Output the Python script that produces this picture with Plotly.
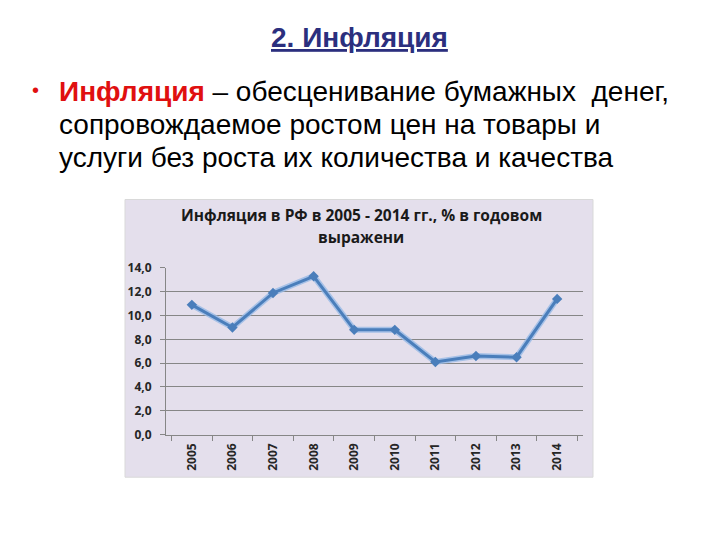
import plotly.graph_objects as go

years = ["2005", "2006", "2007", "2008", "2009", "2010", "2011", "2012", "2013", "2014"]
inflation = [10.9, 9.0, 11.9, 13.3, 8.8, 8.8, 6.1, 6.6, 6.5, 11.4]
y_ticks = [0, 2, 4, 6, 8, 10, 12, 14]
y_tick_labels = ["0,0", "2,0", "4,0", "6,0", "8,0", "10,0", "12,0", "14,0"]

OFF = 8
W, H = 720 - OFF, 540 - OFF
def px(x):
    return (x - OFF) / W
def py(y):
    # empirical mapping of page pixel -> figure fraction
    return 1 - ((y - 14) / 0.976) / H

fig = go.Figure()
fig.add_trace(go.Scatter(x=years, y=inflation, mode="lines",
                         line=dict(color="rgba(150,185,230,0.8)", width=6),
                         hoverinfo="skip", showlegend=False))
fig.add_trace(go.Scatter(x=years, y=inflation, mode="lines+markers",
                         line=dict(color="#4A7EBB", width=3),
                         marker=dict(symbol="diamond", size=8, color="#4A7EBB"),
                         showlegend=False))

box_fill = "#E4DFEC"
fig.add_shape(type="rect", xref="paper", yref="paper",
              x0=px(125), x1=px(593), y0=py(478), y1=py(198),
              fillcolor=box_fill, line=dict(color="#D9D9D9", width=1), layer="below")

tickfont = dict(family="Open Sans", size=12, color="#262626", weight="bold")
fig.update_layout(
    width=W, height=H,
    margin=dict(l=0, r=0, t=0, b=0),
    paper_bgcolor="white",
    plot_bgcolor="rgba(0,0,0,0)",
    xaxis=dict(domain=[px(166), px(583)], type="category",
               showgrid=False, showline=True, linecolor="#868686", linewidth=1,
               ticks="outside", ticklen=5, tickcolor="#868686", tickson="boundaries",
               tickangle=-90, tickfont=tickfont, ticklabelstandoff=3, fixedrange=True),
    yaxis=dict(domain=[py(435), py(267)], range=[0, 14],
               tickvals=y_ticks, ticktext=y_tick_labels,
               showgrid=True, gridcolor="#868686", gridwidth=1,
               showline=True, linecolor="#868686", linewidth=1,
               ticks="outside", ticklen=5, tickcolor="#868686",
               tickfont=tickfont, ticklabelstandoff=6, zeroline=False, fixedrange=True),
)

annotations = [
    dict(x=px(359), y=py(34.5), text="<b><u>2. Инфляция</u></b>",
         font=dict(family="Liberation Sans", size=28, color="#2B2F7E")),
    dict(x=px(361), y=py(214), text="<b>Инфляция в РФ в 2005 - 2014 гг., % в годовом</b>",
         font=dict(family="Open Sans", size=15.5, color="#1A1A1A")),
    dict(x=px(361), y=py(235.5), text="<b>выражени</b>",
         font=dict(family="Open Sans", size=15.5, color="#1A1A1A")),
    dict(x=px(35), y=py(88), text="•", font=dict(family="Liberation Sans", size=20, color="#E01010")),
]
lines = [
    ("<span style='color:#E01010'><b>Инфляция</b></span> – обесценивание бумажных&nbsp; денег,", 89),
    ("сопровождаемое ростом цен на товары и", 122.5),
    ("услуги без роста их количества и качества", 155.5),
]
for t, yy in lines:
    annotations.append(dict(x=px(57), y=py(yy), text=t, xanchor="left",
                            font=dict(family="Liberation Sans", size=28, color="#000000")))

for a in annotations:
    a.setdefault("xanchor", "center")
    a.update(xref="paper", yref="paper", yanchor="middle", showarrow=False)
fig.update_layout(annotations=annotations)

fig.write_html("out.html")
